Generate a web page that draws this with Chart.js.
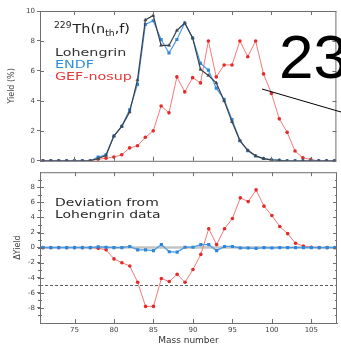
<!DOCTYPE html>
<html>
<head>
<meta charset="utf-8">
<script src="https://cdn.jsdelivr.net/npm/chart.js@4/dist/chart.umd.min.js"></script>
<style>
    body { margin: 0; background: #fff; }
    #wrap { position: relative; width: 341px; height: 347px; overflow: hidden; }
    canvas { position: absolute; left: 0; }
</style>
</head>
<body>
<div id="wrap">
    <canvas id="topChart" width="341" height="167" style="top:0"></canvas>
    <canvas id="bottomChart" width="341" height="181" style="top:166px"></canvas>
</div>
<script>
// Mass numbers 71 .. 108
const masses = [71, 72, 73, 74, 75, 76, 77, 78, 79, 80, 81, 82, 83, 84, 85, 86, 87, 88, 89, 90,
    91, 92, 93, 94, 95, 96, 97, 98, 99, 100, 101, 102, 103, 104, 105, 106, 107, 108];

// Top panel: yield (%)
const lohengrinYield = [0, 0, 0, 0, 0, 0, 0, 0.15, 0.35, 1.65, 2.3, 3.25, 5.4, 9.4, 9.7, 7.7, 7.7, 8.7, 9.2, 8.2,
    6.1, 5.7, 5.2, 4.0, 2.6, 1.35, 0.7, 0.33, 0.15, 0.06, 0.03, 0, 0, 0, 0, 0, 0, 0];
const endfYield = [0, 0, 0, 0, 0, 0, 0, 0.25, 0.4, 1.65, 2.3, 3.4, 5.1, 9.1, 9.35, 8.1, 7.2, 8.1, 9.2, 8.2,
    6.5, 6.05, 4.85, 4.1, 2.75, 1.35, 0.68, 0.32, 0.15, 0.07, 0.03, 0, 0, 0, 0, 0, 0, 0];
const gefYield = [0, 0, 0, 0, 0, 0, 0, 0.1, 0.17, 0.25, 0.4, 0.86, 1.0, 1.57, 2.0, 3.66, 3.2, 5.6, 4.6, 5.55,
    5.2, 8.0, 5.6, 6.4, 6.4, 8.0, 6.95, 8.0, 5.8, 4.5, 2.8, 1.9, 0.65, 0.2, 0.08, 0, 0, 0];

// Bottom panel: deviation from Lohengrin data
const endfDev = [0, 0, 0, 0, 0, 0, 0, 0.1, 0.05, 0, 0, 0.15, -0.3, -0.3, -0.4, 0.4, -0.55, -0.6, 0.05, 0.05,
    0.4, 0.4, -0.4, 0.15, 0.15, -0.05, -0.05, -0.1, 0, -0.05, 0, 0, 0, 0, 0, 0, 0, 0];
const gefDev = [0, 0, 0, 0, 0, 0, 0, -0.1, -0.3, -1.5, -2.0, -2.45, -4.6, -7.8, -7.8, -4.1, -4.5, -3.55, -4.6, -2.9,
    -0.9, 2.5, 0.4, 2.5, 3.85, 6.6, 6.1, 7.65, 5.5, 4.25, 2.8, 1.85, 0.57, 0.2, 0.05, 0, 0, 0];

const massTicks = [75, 80, 85, 90, 95, 100, 105];
const yieldTicks = [0, 2, 4, 6, 8, 10];
const devTicks = [-8, -6, -4, -2, 0, 2, 4, 6, 8];
const devMinorTicks = [-9, -8, -7, -6, -5, -4, -3, -2, -1, 0, 1, 2, 3, 4, 5, 6, 7, 8, 9];
const lowerLimit = -4.9;

const xMin = 70.625, xMax = 108.25;
const axisColor = "#6f6f6f";
const fontFamily = "'DejaVu Sans', sans-serif";

function pts(arr) {
    return masses.map((m, i) => ({ x: m, y: arr[i] }));
}

// stretched text, the figure's lettering is wide
function wideText(ctx, text, x, y, size, color, sx) {
    ctx.save();
    ctx.font = size + "px " + fontFamily;
    ctx.fillStyle = color;
    ctx.textBaseline = "alphabetic";
    ctx.translate(x, y);
    ctx.scale(sx, 1);
    ctx.fillText(text, 0, 0);
    const w = ctx.measureText(text).width * sx;
    ctx.restore();
    return w;
}

// frame + inward tick marks
function drawFrame(chart, yTicks, minorTicks) {
    const { ctx, chartArea: a, scales } = chart;
    ctx.save();
    ctx.strokeStyle = axisColor;
    ctx.lineWidth = 1;
    ctx.strokeRect(a.left + 0.5, a.top + 0.5, a.right - a.left - 1, a.bottom - a.top);
    ctx.beginPath();
    massTicks.forEach(v => {
        const px = Math.round(scales.x.getPixelForValue(v)) + 0.5;
        ctx.moveTo(px, a.bottom); ctx.lineTo(px, a.bottom - 4);
        ctx.moveTo(px, a.top); ctx.lineTo(px, a.top + 4);
    });
    yTicks.forEach(v => {
        const py = Math.round(scales.y.getPixelForValue(v)) + 0.5;
        ctx.moveTo(a.left, py); ctx.lineTo(a.left + 4, py);
        ctx.moveTo(a.right, py); ctx.lineTo(a.right - 4, py);
    });
    (minorTicks || []).forEach(v => {
        const py = Math.round(scales.y.getPixelForValue(v)) + 0.5;
        ctx.moveTo(a.left - 2, py); ctx.lineTo(a.left + 2, py);
        ctx.moveTo(a.right, py); ctx.lineTo(a.right - 2, py);
    });
    ctx.stroke();
    ctx.restore();
}

const topDecor = {
    id: "topDecor",
    afterDraw(chart) {
        const ctx = chart.ctx;
        drawFrame(chart, yieldTicks);

        // reaction title
        let x = 54;
        x += wideText(ctx, "229", x, 28, 8, "#222", 1.15);
        x += wideText(ctx, "Th(n", x + 1, 33, 12, "#222", 1.2) + 1;
        x += wideText(ctx, "th", x, 36, 8, "#222", 1.15);
        wideText(ctx, ",f)", x, 33, 12, "#222", 1.2);

        // legend
        wideText(ctx, "Lohengrin", 55, 56, 11, "#333333", 1.3);
        wideText(ctx, "ENDF", 55, 68, 11, "#2f8ee0", 1.3);
        wideText(ctx, "GEF-nosup", 55, 80, 11, "#e8393a", 1.3);

        // pasted overlay in the corner of the figure
        ctx.save();
        ctx.font = "62px 'Liberation Sans', Arial, sans-serif";
        ctx.fillStyle = "#000";
        ctx.fillText("23", 279, 78);
        ctx.strokeStyle = "#000";
        ctx.lineWidth = 1;
        ctx.beginPath();
        ctx.moveTo(262, 89);
        ctx.lineTo(341, 112);
        ctx.stroke();
        ctx.restore();
    }
};

const bottomDecor = {
    id: "bottomDecor",
    beforeDatasetsDraw(chart) {
        const { ctx, chartArea: a, scales } = chart;
        ctx.save();
        const y0 = scales.y.getPixelForValue(0);
        ctx.strokeStyle = "#c4c4c4";
        ctx.lineWidth = 2.5;
        ctx.beginPath();
        ctx.moveTo(a.left, y0); ctx.lineTo(a.right, y0);
        ctx.stroke();
        const yl = Math.round(scales.y.getPixelForValue(lowerLimit)) + 0.5;
        ctx.strokeStyle = "#333";
        ctx.lineWidth = 0.8;
        ctx.setLineDash([3, 2]);
        ctx.beginPath();
        ctx.moveTo(a.left, yl); ctx.lineTo(a.right, yl);
        ctx.stroke();
        ctx.restore();
    },
    afterDraw(chart) {
        const ctx = chart.ctx;
        drawFrame(chart, devTicks, devMinorTicks);
        wideText(ctx, "Deviation from", 55, 40, 11, "#2a2a2a", 1.27);
        wideText(ctx, "Lohengrin data", 55, 52, 11, "#2a2a2a", 1.27);
    }
};

function createTopChart() {
    const ctx = document.getElementById("topChart").getContext("2d");
    return new Chart(ctx, {
        type: "line",
        data: {
            datasets: [
                {
                    label: "GEF-nosup", data: pts(gefYield), order: 3,
                    borderColor: "#f47a7a", borderWidth: 1,
                    pointRadius: 1.8, pointBackgroundColor: "#e22a2a", pointBorderWidth: 0
                },
                {
                    label: "ENDF", data: pts(endfYield), order: 2,
                    borderColor: "#4a9be6", borderWidth: 1.2,
                    pointStyle: "rect", pointRadius: 2.2, pointBackgroundColor: "#2f86d8", pointBorderWidth: 0
                },
                {
                    label: "Lohengrin", data: pts(lohengrinYield), order: 1,
                    borderColor: "#3a3f48", borderWidth: 1.2,
                    pointStyle: "triangle", pointRadius: 1.8, pointBackgroundColor: "#2b3e60",
                    pointBorderColor: "#555", pointBorderWidth: 0.6
                }
            ]
        },
        options: {
            responsive: false,
            animation: false,
            devicePixelRatio: 1,
            layout: { padding: { top: 11, right: 0, bottom: 1, left: 0 } },
            plugins: { legend: { display: false }, tooltip: { enabled: false } },
            scales: {
                x: { type: "linear", min: xMin, max: xMax, display: false },
                y: {
                    min: 0, max: 10,
                    afterBuildTicks: s => { s.ticks = yieldTicks.map(v => ({ value: v })); },
                    afterFit: s => { s.width = 40; },
                    ticks: { font: { family: fontFamily, size: 7 }, color: "#444", padding: 2 },
                    grid: { drawOnChartArea: false, tickLength: 3, color: axisColor },
                    border: { color: axisColor },
                    title: { display: true, text: "Yield (%)", color: "#444",
                        font: { family: fontFamily, size: 8 }, padding: { top: 7, bottom: 0 } }
                }
            }
        },
        plugins: [topDecor]
    });
}

function createBottomChart() {
    const ctx = document.getElementById("bottomChart").getContext("2d");
    return new Chart(ctx, {
        type: "line",
        data: {
            datasets: [
                {
                    label: "GEF-nosup", data: pts(gefDev), order: 2,
                    borderColor: "#f47a7a", borderWidth: 1,
                    pointRadius: 1.8, pointBackgroundColor: "#e22a2a", pointBorderWidth: 0
                },
                {
                    label: "ENDF", data: pts(endfDev), order: 1,
                    borderColor: "#4a9be6", borderWidth: 1.3,
                    pointStyle: "rect", pointRadius: 2.2, pointBackgroundColor: "#2f86d8", pointBorderWidth: 0
                }
            ]
        },
        options: {
            responsive: false,
            animation: false,
            devicePixelRatio: 1,
            layout: { padding: { top: 0, right: 0, bottom: 0, left: 0 } },
            plugins: { legend: { display: false }, tooltip: { enabled: false } },
            scales: {
                x: {
                    type: "linear", min: xMin, max: xMax,
                    afterBuildTicks: s => { s.ticks = massTicks.map(v => ({ value: v })); },
                    afterFit: s => { s.height = 24; },
                    ticks: { font: { family: fontFamily, size: 7 }, color: "#444", padding: 3 },
                    grid: { drawOnChartArea: false, drawTicks: false, color: axisColor },
                    border: { color: axisColor },
                    title: { display: true, text: "Mass number", color: "#333",
                        font: { family: fontFamily, size: 9 }, padding: { top: 0, bottom: 1 } }
                },
                y: {
                    min: -10, max: 10,
                    afterBuildTicks: s => { s.ticks = devTicks.map(v => ({ value: v })); },
                    afterFit: s => { s.width = 40; },
                    ticks: { font: { family: fontFamily, size: 7 }, color: "#444", padding: 2 },
                    grid: { drawOnChartArea: false, tickLength: 3, color: axisColor },
                    border: { color: axisColor },
                    title: { display: true, text: "ΔYield", color: "#444",
                        font: { family: fontFamily, size: 8 }, padding: { top: 13, bottom: 0 } }
                }
            }
        },
        plugins: [bottomDecor]
    });
}

document.addEventListener("DOMContentLoaded", () => {
    window.topChart = createTopChart();
    window.bottomChart = createBottomChart();
});
</script>
</body>
</html>
